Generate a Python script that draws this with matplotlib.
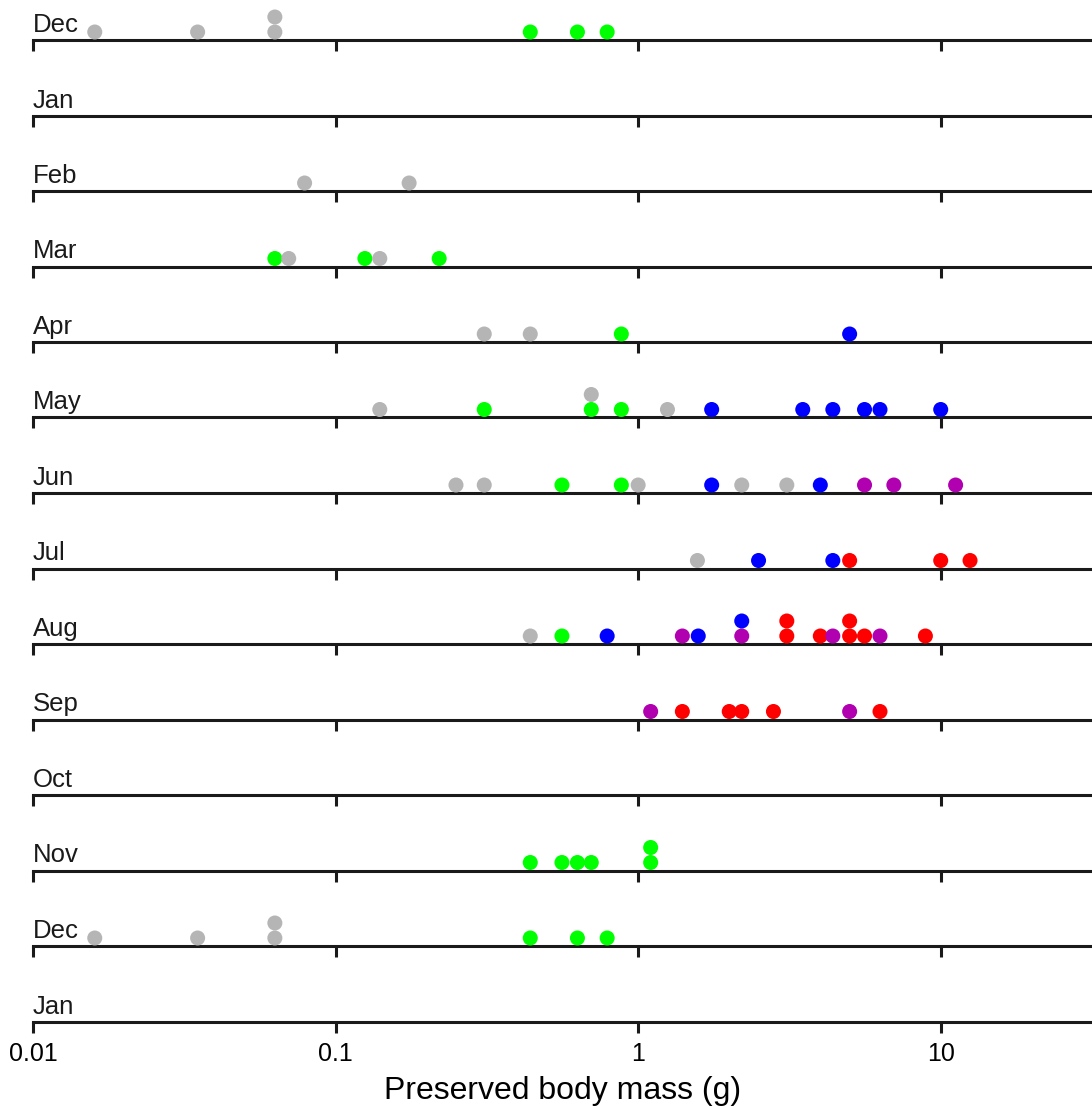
import matplotlib
matplotlib.use("Agg")
import matplotlib.pyplot as plt

plt.rcParams['font.family'] = ['Liberation Sans', 'DejaVu Sans']

months = ["Dec", "Jan", "Feb", "Mar", "Apr", "May", "Jun",
          "Jul", "Aug", "Sep", "Oct", "Nov", "Dec", "Jan"]

# preserved body mass (g) and group of each specimen, one list per month row
masses = [
    [0.016, 0.035, 0.063, 0.063, 0.44, 0.63, 0.79],
    [],
    [0.079, 0.175],
    [0.063, 0.07, 0.125, 0.14, 0.22],
    [0.31, 0.44, 0.88, 5.0],
    [0.14, 0.31, 0.7, 0.7, 0.88, 1.25, 1.75, 3.5, 4.4, 5.6, 6.3, 10.0],
    [0.25, 0.31, 0.56, 0.88, 1.0, 1.75, 2.2, 3.1, 4.0, 5.6, 7.0, 11.2],
    [1.57, 2.5, 4.4, 5.0, 10.0, 12.5],
    [0.44, 0.56, 0.79, 1.4, 1.58, 2.2, 2.2, 3.1, 3.1, 4.0, 4.4, 5.0, 5.0, 5.6, 6.3, 8.9],
    [1.1, 1.4, 2.0, 2.2, 2.8, 5.0, 6.3],
    [],
    [0.44, 0.56, 0.63, 0.7, 1.1, 1.1],
    [0.016, 0.035, 0.063, 0.063, 0.44, 0.63, 0.79],
    [],
]
# k grey, g green, b blue, p purple, r red
groups = [
    "kkkkggg",
    "",
    "kk",
    "gkgkg",
    "kkgb",
    "kggkgkbbbbbb",
    "kkggkbkkbppp",
    "kbbrrr",
    "kgbpbpbrrrprrrpr",
    "prrrrpr",
    "",
    "gggggg",
    "kkkkggg",
    "",
]
colors = {"k": "#b5b5b5", "g": "#00ff00", "b": "#0000ff",
          "p": "#b000b0", "r": "#ff0000"}

ticks = [0.01, 0.1, 1, 10]
tick_labels = ["0.01", "0.1", "1", "10"]

W, H = 1092, 1106
fig = plt.figure(figsize=(W / 100, H / 100), dpi=100)

left = 33
first_base = 40
row_step = 75.5
ax_h = 60

for i, month in enumerate(months):
    base = first_base + row_step * i
    ax = fig.add_axes([left / W, 1 - base / H, (W - left) / W, ax_h / H])
    ax.set_xscale("log")
    ax.set_xlim(0.01, 10 ** 1.5)
    ax.set_ylim(0, ax_h)
    for s in ["top", "right", "left"]:
        ax.spines[s].set_visible(False)
    ax.spines["bottom"].set_linewidth(2.2)
    ax.spines["bottom"].set_color("#1a1a1a")
    ax.set_yticks([])
    ax.set_xticks(ticks)
    ax.xaxis.set_minor_locator(matplotlib.ticker.NullLocator())
    ax.tick_params(axis="x", direction="out", length=8, width=2.2,
                   color="#1a1a1a", labelsize=18, pad=7)
    if i == len(months) - 1:
        ax.set_xticklabels(tick_labels)
        ax.set_xlabel("Preserved body mass (g)", fontsize=23, labelpad=7)
    else:
        ax.set_xticklabels([])
    ax.patch.set_visible(False)

    ax.text(0, 8, month, transform=ax.get_yaxis_transform(),
            fontsize=18.5, ha="left", va="baseline", color="#1a1a1a")

    # identical masses in a row are stacked upwards
    seen = {}
    ys = []
    for m in masses[i]:
        level = seen.get(m, 0)
        seen[m] = level + 1
        ys.append(8 + 15 * level)
    cs = [colors[g] for g in groups[i]]
    if masses[i]:
        ax.scatter(masses[i], ys, s=117, c=cs, linewidths=0,
                   clip_on=False, zorder=3)

fig.savefig("out.png", dpi=100)
